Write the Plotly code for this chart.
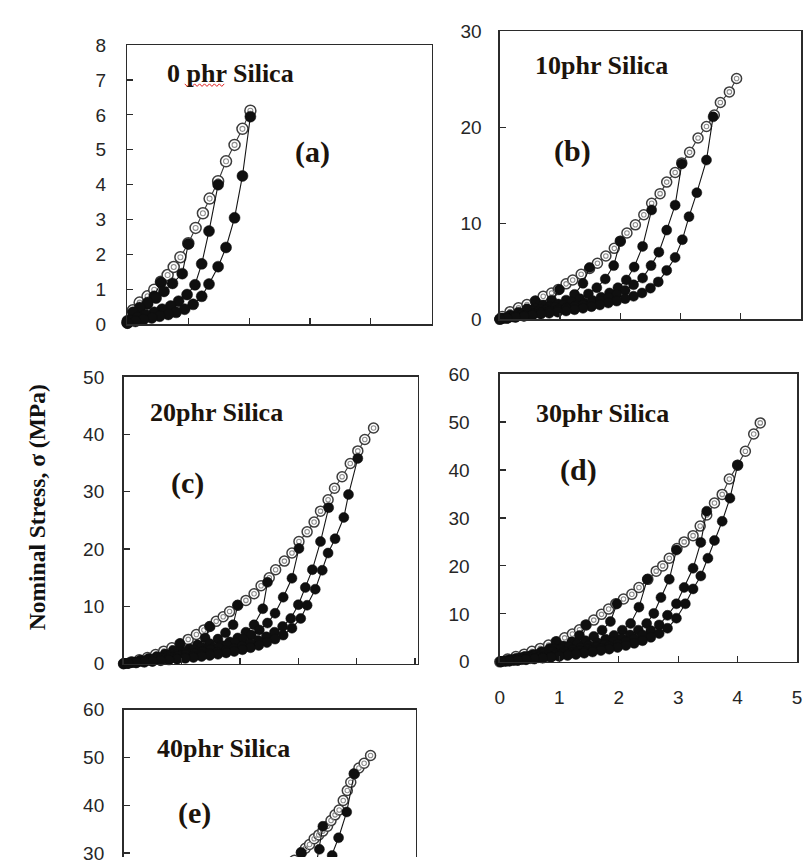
import plotly.graph_objects as go

W, H = 811, 868

# ---------------- data (strain, nominal stress in MPa) ----------------
# (a) 0 phr silica
a_env_strain = [0.0, 0.09, 0.2, 0.33, 0.44, 0.55, 0.66, 0.76, 0.87, 1.0, 1.12, 1.24, 1.35, 1.49, 1.62, 1.76, 1.89, 2.02]
a_env_stress = [0.05, 0.4, 0.62, 0.8, 0.99, 1.22, 1.41, 1.64, 1.92, 2.32, 2.76, 3.18, 3.6, 4.1, 4.67, 5.14, 5.6, 6.12]
a_unload_strain = [
    [0.55, 0.44, 0.33, 0.2, 0.09, 0.0],
    [1.0, 0.9, 0.74, 0.6, 0.47, 0.33, 0.2, 0.09, 0.0],
    [1.49, 1.34, 1.22, 1.11, 0.98, 0.84, 0.71, 0.57, 0.44, 0.3, 0.17, 0.05],
    [2.02, 1.89, 1.76, 1.62, 1.49, 1.34, 1.22, 1.08, 0.94, 0.8, 0.67, 0.53, 0.4, 0.26, 0.13, 0.0],
]
a_unload_stress = [
    [1.2, 0.8, 0.58, 0.4, 0.22, 0.05],
    [2.3, 1.45, 1.17, 0.94, 0.75, 0.62, 0.48, 0.34, 0.1],
    [4.0, 2.67, 1.73, 1.13, 0.85, 0.66, 0.52, 0.43, 0.34, 0.27, 0.19, 0.1],
    [5.95, 4.25, 3.05, 2.2, 1.65, 1.15, 0.8, 0.57, 0.43, 0.34, 0.28, 0.23, 0.18, 0.13, 0.08, 0.03],
]

# (b) 10 phr silica
b_env_strain = [0.0, 0.04, 0.17, 0.31, 0.45, 0.59, 0.72, 0.86, 0.97, 1.10, 1.21, 1.35, 1.49, 1.62, 1.76, 1.90, 2.0,
                2.11, 2.25, 2.39, 2.52, 2.66, 2.77, 2.91, 3.02, 3.15, 3.29, 3.43, 3.56, 3.66, 3.81, 3.93]
b_env_stress = [0.0, 0.3, 0.8, 1.2, 1.55, 1.9, 2.4, 2.75, 3.1, 3.7, 4.1, 4.7, 5.3, 5.85, 6.6, 7.4, 8.15,
                9.0, 9.85, 10.9, 12.1, 13.1, 14.3, 15.3, 16.3, 17.4, 18.9, 20.1, 21.3, 22.6, 23.7, 25.1]
b_unload_strain = [
    [0.59, 0.45, 0.31, 0.17, 0.04],
    [0.99, 0.86, 0.72, 0.59, 0.45, 0.31, 0.17, 0.04],
    [1.49, 1.38, 1.24, 1.10, 0.97, 0.83, 0.69, 0.55, 0.41, 0.28, 0.14, 0.0],
    [2.0, 1.89, 1.75, 1.61, 1.47, 1.33, 1.19, 1.05, 0.91, 0.77, 0.63, 0.49, 0.35, 0.21, 0.07],
    [2.52, 2.37, 2.23, 2.10, 1.96, 1.82, 1.68, 1.54, 1.40, 1.26, 1.12, 0.98, 0.84, 0.70, 0.56, 0.42, 0.28, 0.14, 0.0],
    [3.02, 2.91, 2.77, 2.64, 2.51, 2.37, 2.22, 2.08, 1.94, 1.80, 1.66, 1.52, 1.38, 1.24, 1.10, 0.96, 0.82, 0.68,
     0.54, 0.40, 0.26, 0.12],
    [3.54, 3.43, 3.27, 3.14, 3.03, 2.91, 2.77, 2.63, 2.50, 2.36, 2.22, 2.08, 1.94, 1.80, 1.66, 1.52, 1.38, 1.24,
     1.10, 0.96, 0.82, 0.68, 0.54, 0.40, 0.26, 0.12, 0.0],
]
b_unload_stress = [
    [1.9, 1.1, 0.75, 0.45, 0.12],
    [3.1, 2.0, 1.5, 1.15, 0.85, 0.6, 0.35, 0.1],
    [5.4, 3.75, 2.6, 2.0, 1.6, 1.3, 1.05, 0.85, 0.65, 0.45, 0.25, 0.05],
    [8.15, 5.6, 4.2, 3.3, 2.65, 2.15, 1.8, 1.5, 1.25, 1.0, 0.8, 0.6, 0.42, 0.25, 0.08],
    [11.4, 7.6, 5.45, 4.1, 3.3, 2.75, 2.3, 1.95, 1.7, 1.45, 1.25, 1.05, 0.88, 0.72, 0.57, 0.42, 0.28, 0.15, 0.03],
    [16.2, 11.9, 9.3, 7.0, 5.6, 4.3, 3.6, 3.0, 2.6, 2.25, 1.95, 1.7, 1.5, 1.3, 1.12, 0.95, 0.8, 0.65,
     0.5, 0.37, 0.24, 0.1],
    [21.1, 16.6, 13.2, 10.7, 8.3, 6.45, 5.1, 3.9, 3.25, 2.75, 2.4, 2.15, 1.9, 1.7, 1.5, 1.32, 1.15, 1.0,
     0.87, 0.75, 0.63, 0.52, 0.41, 0.3, 0.2, 0.1, 0.03],
]

# (c) 20 phr silica
c_env_strain = [0.0, 0.13, 0.27, 0.41, 0.55, 0.69, 0.83, 0.97, 1.11, 1.25, 1.38, 1.48, 1.59, 1.71, 1.82, 1.96, 2.10,
                2.24, 2.36, 2.50, 2.61, 2.76, 2.89, 3.01, 3.15, 3.27, 3.38, 3.51, 3.62, 3.75, 3.89, 4.02, 4.14, 4.29]
c_env_stress = [0.0, 0.3, 0.7, 1.1, 1.6, 2.2, 2.8, 3.5, 4.25, 5.1, 5.9, 6.5, 7.4, 8.2, 9.1, 10.2, 11.05,
                12.2, 13.6, 15.0, 16.4, 17.9, 19.3, 21.3, 23.0, 24.7, 26.6, 28.6, 30.6, 32.6, 34.9, 37.1, 39.1, 41.1]
c_unload_strain = [
    [0.97, 0.85, 0.71, 0.57, 0.43, 0.29, 0.15, 0.02],
    [1.48, 1.40, 1.27, 1.13, 0.99, 0.85, 0.71, 0.57, 0.43, 0.29, 0.15, 0.01],
    [1.96, 1.88, 1.75, 1.62, 1.48, 1.34, 1.20, 1.06, 0.92, 0.78, 0.64, 0.50, 0.36, 0.22, 0.08],
    [2.47, 2.39, 2.24, 2.10, 1.96, 1.82, 1.68, 1.54, 1.40, 1.26, 1.12, 0.98, 0.84, 0.70, 0.56, 0.42, 0.28, 0.14, 0.0],
    [3.01, 2.89, 2.74, 2.60, 2.47, 2.33, 2.19, 2.05, 1.91, 1.77, 1.63, 1.49, 1.35, 1.21, 1.07, 0.93, 0.79, 0.65,
     0.51, 0.37, 0.23, 0.09],
    [3.52, 3.38, 3.24, 3.12, 3.0, 2.87, 2.73, 2.59, 2.45, 2.31, 2.17, 2.03, 1.89, 1.75, 1.61, 1.47, 1.33, 1.19,
     1.05, 0.91, 0.77, 0.63, 0.49, 0.35, 0.21, 0.07],
    [4.02, 3.86, 3.78, 3.63, 3.51, 3.41, 3.29, 3.15, 3.04, 2.89, 2.74, 2.60, 2.46, 2.32, 2.18, 2.04, 1.90, 1.76,
     1.62, 1.48, 1.34, 1.20, 1.06, 0.92, 0.78, 0.64, 0.50, 0.36, 0.22, 0.08],
]
c_unload_stress = [
    [3.5, 2.3, 1.7, 1.25, 0.9, 0.6, 0.32, 0.05],
    [6.5, 4.5, 3.3, 2.6, 2.1, 1.7, 1.35, 1.05, 0.8, 0.55, 0.3, 0.05],
    [10.2, 6.8, 5.4, 4.3, 3.5, 2.9, 2.4, 2.0, 1.65, 1.35, 1.05, 0.8, 0.55, 0.32, 0.1],
    [14.2, 9.6, 6.8, 5.5, 4.5, 3.8, 3.2, 2.75, 2.35, 2.0, 1.7, 1.45, 1.2, 0.98, 0.77, 0.57, 0.38, 0.2, 0.03],
    [20.1, 14.9, 11.6, 8.8, 7.1, 5.9, 5.0, 4.3, 3.7, 3.2, 2.8, 2.45, 2.1, 1.8, 1.55, 1.3, 1.08, 0.87,
     0.67, 0.48, 0.3, 0.12],
    [27.2, 21.3, 16.4, 13.3, 10.3, 7.9, 6.5, 5.5, 4.7, 4.05, 3.5, 3.05, 2.65, 2.3, 2.0, 1.75, 1.52, 1.3,
     1.1, 0.92, 0.76, 0.6, 0.45, 0.31, 0.18, 0.06],
    [35.8, 29.5, 25.5, 21.8, 19.3, 16.3, 13.0, 10.2, 7.9, 6.2, 5.0, 4.3, 3.7, 3.2, 2.8, 2.45, 2.15, 1.9,
     1.65, 1.45, 1.27, 1.1, 0.95, 0.8, 0.66, 0.53, 0.4, 0.28, 0.16, 0.05],
]

# (d) 30 phr silica
d_env_strain = [0.0, 0.13, 0.27, 0.41, 0.54, 0.68, 0.82, 0.95, 1.09, 1.22, 1.34, 1.45, 1.58, 1.71, 1.83, 1.95, 2.08,
                2.22, 2.34, 2.49, 2.63, 2.74, 2.85, 2.98, 3.10, 3.25, 3.37, 3.48, 3.61, 3.74, 3.86, 4.0, 4.13, 4.27, 4.38]
d_env_stress = [0.0, 0.6, 1.1, 1.6, 2.2, 2.8, 3.5, 4.2, 5.0, 5.8, 6.7, 7.7, 8.7, 9.9, 11.0, 12.1, 13.1,
                14.1, 15.5, 17.2, 18.9, 20.0, 21.6, 23.6, 25.0, 26.3, 28.3, 30.6, 33.1, 34.9, 38.1, 41.0, 43.9, 47.5, 49.8]
d_unload_strain = [
    [0.95, 0.84, 0.70, 0.56, 0.42, 0.28, 0.14, 0.01],
    [1.45, 1.34, 1.21, 1.07, 0.93, 0.79, 0.65, 0.51, 0.37, 0.23, 0.09],
    [1.97, 1.86, 1.72, 1.58, 1.44, 1.30, 1.16, 1.02, 0.88, 0.74, 0.60, 0.46, 0.32, 0.18, 0.04],
    [2.48, 2.34, 2.20, 2.06, 1.92, 1.78, 1.64, 1.50, 1.36, 1.22, 1.08, 0.94, 0.80, 0.66, 0.52, 0.38, 0.24, 0.10],
    [2.97, 2.85, 2.71, 2.59, 2.47, 2.33, 2.19, 2.05, 1.91, 1.77, 1.63, 1.49, 1.35, 1.21, 1.07, 0.93, 0.79, 0.65,
     0.51, 0.37, 0.23, 0.09],
    [3.48, 3.38, 3.25, 3.10, 2.97, 2.82, 2.68, 2.54, 2.40, 2.26, 2.12, 1.98, 1.84, 1.70, 1.56, 1.42, 1.28, 1.14,
     1.0, 0.86, 0.72, 0.58, 0.44, 0.30, 0.16, 0.02],
    [4.0, 3.87, 3.74, 3.61, 3.50, 3.38, 3.25, 3.12, 2.97, 2.82, 2.68, 2.54, 2.40, 2.26, 2.12, 1.98, 1.84, 1.70,
     1.56, 1.42, 1.28, 1.14, 1.0, 0.86, 0.72, 0.58, 0.44, 0.30, 0.16, 0.02],
]
d_unload_stress = [
    [4.2, 2.8, 2.1, 1.55, 1.1, 0.75, 0.4, 0.05],
    [7.7, 5.5, 4.2, 3.3, 2.65, 2.1, 1.65, 1.25, 0.9, 0.55, 0.2],
    [12.1, 8.4, 6.6, 5.3, 4.4, 3.7, 3.1, 2.6, 2.15, 1.75, 1.4, 1.05, 0.72, 0.4, 0.1],
    [17.2, 11.4, 8.0, 6.6, 5.5, 4.7, 4.0, 3.4, 2.9, 2.5, 2.1, 1.75, 1.45, 1.15, 0.87, 0.6, 0.35, 0.12],
    [23.3, 17.2, 13.4, 10.1, 8.0, 6.6, 5.6, 4.8, 4.15, 3.6, 3.1, 2.7, 2.3, 1.95, 1.65, 1.37, 1.1, 0.87,
     0.65, 0.45, 0.27, 0.1],
    [31.4, 24.9, 19.5, 15.5, 12.1, 9.7, 7.7, 6.5, 5.6, 4.8, 4.2, 3.65, 3.2, 2.8, 2.45, 2.12, 1.82, 1.55,
     1.3, 1.07, 0.86, 0.66, 0.48, 0.31, 0.16, 0.03],
    [41.0, 34.1, 29.3, 25.3, 21.6, 17.9, 15.2, 12.1, 9.1, 7.0, 5.9, 5.1, 4.4, 3.85, 3.4, 3.0, 2.65, 2.35,
     2.05, 1.8, 1.55, 1.32, 1.12, 0.93, 0.75, 0.58, 0.43, 0.28, 0.14, 0.02],
]

# (e) 40 phr silica (only the upper part is visible)
e_env_strain = [0.0, 0.2, 0.4, 0.6, 0.8, 1.0, 1.2, 1.4, 1.6, 1.8, 2.0, 2.2, 2.4, 2.55, 2.7, 2.82, 2.94, 3.06,
                3.13, 3.2, 3.28, 3.36, 3.43, 3.51, 3.57, 3.64, 3.71, 3.78, 3.85, 3.91, 3.97, 4.05, 4.14, 4.25]
e_env_stress = [0.0, 1.0, 2.0, 3.0, 4.2, 5.5, 7.0, 8.6, 10.4, 12.4, 14.6, 17.0, 19.8, 22.2, 24.8, 26.8, 28.5, 30.1,
                31.0, 31.8, 33.0, 33.8, 34.6, 35.6, 36.8, 38.0, 39.0, 41.0, 43.1, 44.8, 46.6, 47.8, 48.8, 50.4]
e_unload_strain = [
    [3.06, 2.98, 2.88, 2.76, 2.62, 2.45, 2.2, 1.9, 1.5, 1.0, 0.5, 0.0],
    [3.43, 3.37, 3.30, 3.20, 3.08, 2.94, 2.78, 2.5, 2.1, 1.6, 1.0, 0.5, 0.0],
    [3.97, 3.84, 3.70, 3.59, 3.48, 3.36, 3.22, 3.05, 2.85, 2.5, 2.0, 1.4, 0.8, 0.0],
]
e_unload_stress = [
    [30.1, 24.0, 19.0, 14.5, 11.0, 8.5, 6.2, 4.6, 3.2, 2.0, 0.9, 0.0],
    [35.6, 30.8, 26.5, 21.5, 17.0, 13.0, 10.0, 7.0, 5.0, 3.4, 2.0, 0.9, 0.0],
    [46.6, 38.6, 33.2, 29.5, 25.0, 21.0, 17.0, 13.0, 9.8, 6.5, 4.4, 2.8, 1.5, 0.0],
]

panel_titles = ["0 phr Silica", "10phr Silica", "20phr Silica", "30phr Silica", "40phr Silica"]
panel_letters = ["(a)", "(b)", "(c)", "(d)", "(e)"]
y_tick_values = [[0, 1, 2, 3, 4, 5, 6, 7, 8], [0, 10, 20, 30], [0, 10, 20, 30, 40, 50],
                 [0, 10, 20, 30, 40, 50, 60], [30, 40, 50, 60]]
x_tick_values = [0, 1, 2, 3, 4, 5]
x_tick_labels = ["0", "1", "2", "3", "4", "5"]
y_axis_title = "Nominal Stress, σ (MPa)"

# ---------------- layout geometry (pixels) ----------------
panels = [
    dict(box=(124, 432, 36, 322), xr=[0, 5], yr=[0, 8], standoff=16, ms=11, xlab=False, clip=False,
         title_xy=(162, 65), letter_xy=(311, 146)),
    dict(box=(501, 806, 22, 317), xr=[0, 5], yr=[0, 30], standoff=13, ms=10, xlab=False, clip=False,
         title_xy=(535, 57), letter_xy=(575, 145)),
    dict(box=(120, 418, 376, 670), xr=[0, 5.05], yr=[0, 50], standoff=14, ms=10, xlab=False, clip=False,
         title_xy=(145, 412), letter_xy=(185, 485)),
    dict(box=(501, 802, 373, 668), xr=[0, 5], yr=[0, 60], standoff=25, ms=10, xlab=True, clip=False,
         title_xy=(536, 413), letter_xy=(581, 471)),
    dict(box=(120, 416, 717, 868), xr=[0, 5.03], yr=[29.18, 60], standoff=14, ms=10, xlab=False, clip=True,
         title_xy=(152, 757), letter_xy=(192, 823)),
]

env_data = [(a_env_strain, a_env_stress), (b_env_strain, b_env_stress), (c_env_strain, c_env_stress),
            (d_env_strain, d_env_stress), (e_env_strain, e_env_stress)]
unload_data = [(a_unload_strain, a_unload_stress), (b_unload_strain, b_unload_stress),
               (c_unload_strain, c_unload_stress), (d_unload_strain, d_unload_stress),
               (e_unload_strain, e_unload_stress)]


def px(x):
    return x / W


def py(y):
    return 1 - y / H


fig = go.Figure()
AXIS_COLOR = "#2b2b2b"
TICK_FONT = dict(family="Liberation Sans, Arial, sans-serif", size=19, color="#262626")
SERIF = "Liberation Serif, Times New Roman, serif"

for i, p in enumerate(panels):
    n = "" if i == 0 else str(i + 1)
    xa, ya = "x" + n, "y" + n
    left, right, top, bottom = p["box"]
    ms = p["ms"]
    ex, ey = env_data[i]
    fig.add_trace(go.Scatter(
        x=ex, y=ey, xaxis=xa, yaxis=ya, mode="lines+markers", showlegend=False, hoverinfo="skip",
        cliponaxis=p["clip"],
        line=dict(color="#3a3a3a", width=1.1),
        marker=dict(symbol="circle", size=ms, color="white", line=dict(color="#3c3c3c", width=1.5))))
    fig.add_trace(go.Scatter(
        x=ex, y=ey, xaxis=xa, yaxis=ya, mode="markers", showlegend=False, hoverinfo="skip",
        cliponaxis=p["clip"],
        marker=dict(symbol="circle-open", size=ms * 0.45, color="#8c8c8c", line=dict(width=1.1))))
    ux_list, uy_list = unload_data[i]
    for ux, uy in zip(ux_list, uy_list):
        fig.add_trace(go.Scatter(
            x=ux, y=uy, xaxis=xa, yaxis=ya, mode="lines+markers", showlegend=False, hoverinfo="skip",
            cliponaxis=p["clip"],
            line=dict(color="#151515", width=1.1),
            marker=dict(symbol="circle", size=ms, color="#0f0f0f", line=dict(color="#0f0f0f", width=0.5))))

    xaxis = dict(domain=[px(left), px(right)], range=p["xr"], anchor=ya,
                 showgrid=False, zeroline=False, showline=True, linecolor=AXIS_COLOR, linewidth=1.5,
                 mirror=True, ticks="inside", ticklen=6, tickwidth=1.2, tickcolor=AXIS_COLOR,
                 tickvals=x_tick_values, ticktext=x_tick_labels, showticklabels=p["xlab"],
                 tickfont=TICK_FONT, ticklabelstandoff=18)
    if i == 4:
        xaxis.update(side="top", mirror=False, ticks="", showticklabels=False)
    yaxis = dict(domain=[py(bottom), py(top)], range=p["yr"], anchor=xa,
                 showgrid=False, zeroline=False, showline=True, linecolor=AXIS_COLOR, linewidth=1.5,
                 mirror=True, ticks="inside", ticklen=6, tickwidth=1.2, tickcolor=AXIS_COLOR,
                 tickvals=y_tick_values[i], tickfont=TICK_FONT, ticklabelstandoff=p["standoff"])
    fig.update_layout(**{"xaxis" + n: xaxis, "yaxis" + n: yaxis})

    tx, ty = p["title_xy"]
    fig.add_annotation(text=panel_titles[i], x=px(tx), y=py(ty), xref="paper", yref="paper",
                       xanchor="left", yanchor="middle", showarrow=False,
                       font=dict(family=SERIF, size=26, color="#1c140c", weight=700))
    lx, ly = p["letter_xy"]
    fig.add_annotation(text=panel_letters[i], x=px(lx), y=py(ly), xref="paper", yref="paper",
                       xanchor="center", yanchor="middle", showarrow=False,
                       font=dict(family=SERIF, size=30, color="#1c140c", weight=700))

fig.add_annotation(text=y_axis_title, x=px(32), y=py(510), xref="paper", yref="paper",
                   textangle=-90, xanchor="center", yanchor="middle", showarrow=False,
                   font=dict(family=SERIF, size=23.5, color="#111111", weight=700))

# red spell-check squiggle under "phr" in panel (a)
sq = []
for k in range(17):
    xx = 182 + 40 * k / 16
    yy = 77 + (1.3 if k % 2 else -1.3)
    sq.append(f"{'M' if k == 0 else 'L'} {px(xx):.5f},{py(yy):.5f}")
fig.add_shape(type="path", path=" ".join(sq), xref="paper", yref="paper",
              line=dict(color="#e02020", width=1))

fig.update_layout(width=W, height=H, margin=dict(l=0, r=0, t=0, b=0),
                  paper_bgcolor="white", plot_bgcolor="white", showlegend=False)

# remove the browser's default 8px body margin so the figure sits at the page origin
PAGE_FIX = (
    "document.documentElement.style.margin='0';document.documentElement.style.padding='0';"
    "document.documentElement.style.overflow='hidden';"
    "document.body.style.margin='0';document.body.style.padding='0';document.body.style.overflow='hidden';"
    "var gd=document.getElementById('{plot_id}');"
    "gd.style.position='fixed';gd.style.left='0px';gd.style.top='0px';"
)

fig.write_html("out.html", config={"displayModeBar": False, "staticPlot": True}, post_script=PAGE_FIX)
